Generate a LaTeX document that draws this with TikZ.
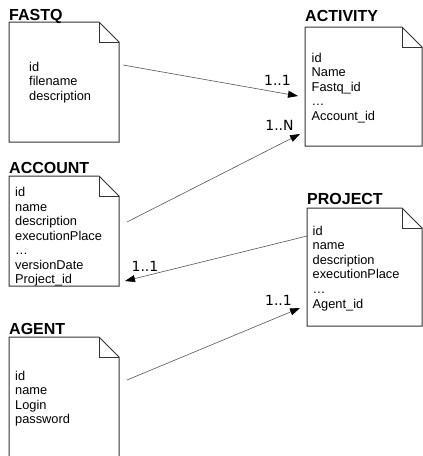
\documentclass[tikz,border=0pt]{standalone}
\usepackage{fontspec}
\setmainfont{Liberation Sans}
\newfontfamily\lblfont{DejaVu Sans}
\usetikzlibrary{calc,arrows.meta}
\definecolor{boxline}{HTML}{333333}
\definecolor{conline}{HTML}{555555}
\begin{document}
\begin{tikzpicture}[x=1pt,y=-1pt,
  docbox/.style={draw=none,inner sep=0pt,outer sep=0pt},
  title/.style={anchor=base west,inner sep=0pt,font=\fontsize{16}{18}\selectfont\bfseries},
  field/.style={anchor=base west,inner sep=0pt,font=\fontsize{12.8}{14}\selectfont},
  card/.style={inner sep=0pt,font=\lblfont\fontsize{14}{16}\selectfont},
  conn/.style={draw=conline,line width=0.6pt,arrows={-{Triangle[length=10pt,width=7pt,fill=black,color=black]}}}]
\useasboundingbox (0,0) rectangle (423,456);
\fill[white] (0,0) rectangle (423,456);

% boxes
\node[docbox,minimum width=110pt,minimum height=120pt] (fastq) at (64,82) {};
\node[docbox,minimum width=117pt,minimum height=119pt] (activity) at (363.5,86.5) {};
\node[docbox,minimum width=110pt,minimum height=110pt] (account) at (64,231) {};
\node[docbox,minimum width=115pt,minimum height=118pt] (project) at (364.5,267) {};
\node[docbox,minimum width=110pt,minimum height=123pt] (agent) at (64,398.5) {};

\foreach \n in {fastq,activity,account,project,agent}{
  \draw[boxline,line width=1pt,line join=miter]
    (\n.south west) -- (\n.north west) -- ([xshift=-20pt]\n.north east)
    -- ([yshift=-20pt]\n.north east) -- (\n.south east) -- cycle;
  \draw[boxline,line width=0.8pt]
    ([xshift=-20pt]\n.north east) -- ([xshift=-20pt,yshift=-20pt]\n.north east)
    -- ([yshift=-20pt]\n.north east);
}

% titles
\node[title] (tfastq) at (9,20) {FASTQ};
\node[title] (tactivity) at (305,21) {ACTIVITY};
\node[title] (taccount) at (9,173) {ACCOUNT};
\node[title] (tproject) at (307,204) {PROJECT};
\node[title] (tagent) at (9,334) {AGENT};

% fields
\foreach \t [count=\i] in {id,filename,description}
  \node[field] (ffastq\i) at (29,71+14.5*\i-14.5) {\t};
\foreach \t [count=\i] in {id,Name,{Fastq\_id},{\ldots},{Account\_id}}
  \node[field] (factivity\i) at (311.5,62+14.5*\i-14.5) {\t};
\foreach \t [count=\i] in {id,name,description,executionPlace,{\ldots},versionDate,{Project\_id}}
  \node[field] (faccount\i) at (15,196.5+14.5*\i-14.5) {\t};
\foreach \t [count=\i] in {id,name,description,executionPlace,{\ldots},{Agent\_id}}
  \node[field] (fproject\i) at (312.5,235+14.6*\i-14.6) {\t};
\foreach \t [count=\i] in {id,name,Login,password}
  \node[field] (fagent\i) at (15,380+14.5*\i-14.5) {\t};

% connectors
\draw[conn] ($(fastq.north east)+(4,43)$) -- ($(activity.north west)+(-7,69)$);
\draw[conn] ($(account.north east)+(8,46)$) -- ($(activity.south west)+(-5,-12)$);
\draw[conn] ($(project.north west)+(0,28)$) -- ($(account.south east)+(6,-5)$);
\draw[conn] ($(agent.north east)+(8,43)$) -- ($(project.south west)+(-7,-18)$);

% cardinalities
\node[card] (c1) at (277.5,80) {1..1};
\node[card] (c2) at (279.5,125) {1..N};
\node[card] (c3) at (145,266) {1..1};
\node[card] (c4) at (278.5,300) {1..1};
\end{tikzpicture}
\end{document}
